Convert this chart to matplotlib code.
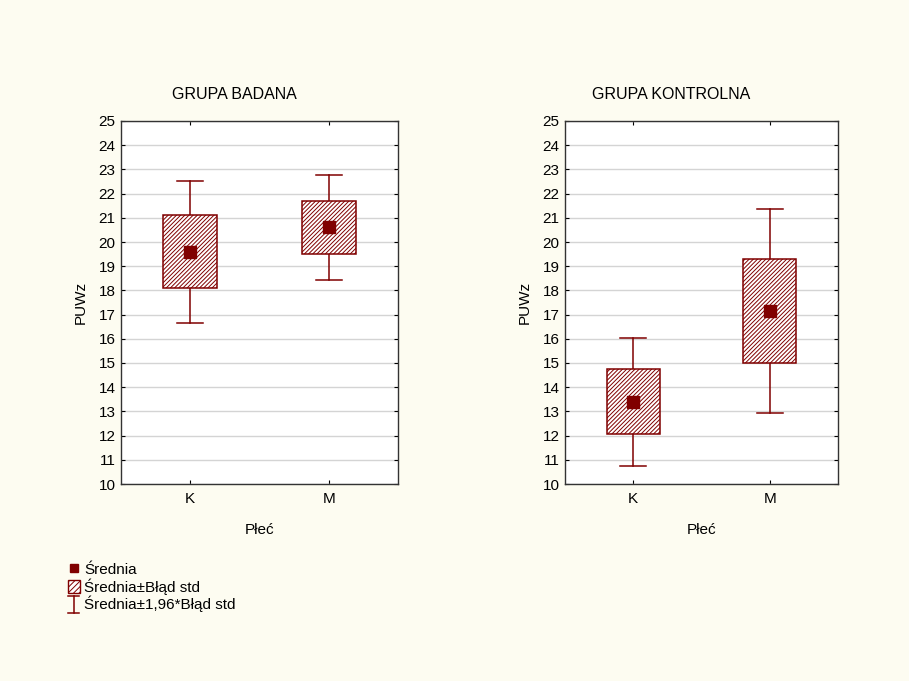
import numpy as np
import matplotlib
matplotlib.use("Agg")
import matplotlib.pyplot as plt
from matplotlib.patches import Rectangle, Patch
from matplotlib.lines import Line2D
from matplotlib.legend_handler import HandlerBase

plt.rcParams['font.family'] = ['Liberation Sans', 'DejaVu Sans']
plt.rcParams['hatch.linewidth'] = 0.7
plt.rcParams['hatch.color'] = '#7a1a1a'

# data
groups = ['GRUPA BADANA', 'GRUPA KONTROLNA']
categories = ['K', 'M']
means = [[19.6, 20.6], [13.4, 17.15]]
std_err = [[1.5, 1.1], [1.35, 2.15]]
yticks = list(range(10, 26))

dark = '#800000'
bg = '#fdfcf1'

fig = plt.figure(figsize=(9.09, 6.81), dpi=100, facecolor=bg)
axes = [fig.add_axes([121/909, 1-484/681, 277/909, 363/681]),
        fig.add_axes([565/909, 1-484/681, 273/909, 363/681])]
title_x = [0.41, 0.39]

box_w = 0.39
cap_w = 0.19
for ax, title, tx, m_list, se_list in zip(axes, groups, title_x, means, std_err):
    ax.set_facecolor('white')
    for i, (m, se) in enumerate(zip(m_list, se_list)):
        lo, hi = m - 1.96*se, m + 1.96*se
        ax.plot([i, i], [lo, m - se], color=dark, lw=1.1, zorder=2)
        ax.plot([i, i], [m + se, hi], color=dark, lw=1.1, zorder=2)
        ax.plot([i - cap_w/2, i + cap_w/2], [lo, lo], color=dark, lw=1.1, zorder=2)
        ax.plot([i - cap_w/2, i + cap_w/2], [hi, hi], color=dark, lw=1.1, zorder=2)
        ax.add_patch(Rectangle((i - box_w/2, m - se), box_w, 2*se, facecolor='white',
                               edgecolor=dark, hatch='////////', lw=1.1, zorder=3))
        ax.plot(i, m, marker='s', ms=8, color=dark, zorder=4, ls='none')
    ax.set_xlim(-0.5, 1.5)
    ax.set_ylim(10, 25)
    ax.set_yticks(yticks)
    ax.set_xticks(range(len(categories)))
    ax.set_xticklabels(categories)
    ax.yaxis.grid(True, color='#d4d4d4', lw=1)
    ax.set_axisbelow(True)
    ax.tick_params(direction='in', length=3, labelsize=11, top=True, right=True, pad=6)
    ax.tick_params(axis='y', pad=4)
    for s in ax.spines.values():
        s.set_color('#333333')
        s.set_linewidth(1.0)
    ax.set_title(title, fontsize=11.5, pad=16, x=tx)
    ax.set_ylabel('PUWz', fontsize=11, labelpad=8)
    ax.set_xlabel('Płeć', fontsize=11, labelpad=12)


class IBeamHandler(HandlerBase):
    def create_artists(self, legend, orig_handle, xdescent, ydescent, width, height, fontsize, trans):
        cx = width / 2 - xdescent
        y0, y1 = -ydescent - 2, height - ydescent + 1
        arts = [Line2D([cx, cx], [y0, y1], color=dark, lw=1.1),
                Line2D([cx - 4, cx + 4], [y0, y0], color=dark, lw=1.1),
                Line2D([cx - 4, cx + 4], [y1, y1], color=dark, lw=1.1)]
        for a in arts:
            a.set_transform(trans)
        return arts


class BeamProxy:
    pass


handles = [Line2D([], [], marker='s', ms=6, color=dark, ls='none'),
           Patch(facecolor='white', edgecolor=dark, hatch='//////'),
           BeamProxy()]
labels = ['Średnia', 'Średnia±Błąd std', 'Średnia±1,96*Błąd std']
fig.legend(handles, labels, loc='upper left', bbox_to_anchor=(60/909, 1-555/681),
           frameon=False, fontsize=11, handlelength=0.8, handleheight=0.9,
           handletextpad=0.3, labelspacing=0.05, borderpad=0,
           handler_map={BeamProxy: IBeamHandler()})

fig.savefig('out.png', dpi=100, facecolor=bg)
